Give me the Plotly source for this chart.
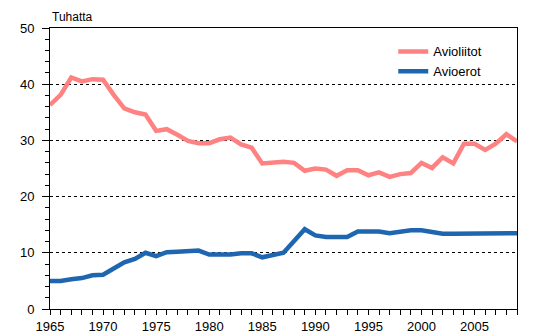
import plotly.graph_objects as go

years = list(range(1965, 2010))
avioliitot = [36.3, 38.1, 41.2, 40.5, 40.9, 40.8, 38.1, 35.7, 35.0, 34.6,
              31.7, 32.0, 31.0, 29.9, 29.5, 29.5, 30.2, 30.5, 29.3, 28.7,
              25.9, 26.0, 26.2, 26.0, 24.6, 25.0, 24.8, 23.7, 24.7, 24.7,
              23.8, 24.3, 23.5, 24.0, 24.2, 26.0, 25.1, 27.0, 25.9, 29.4,
              29.4, 28.3, 29.4, 31.1, 29.8]
avioerot = [5.0, 5.0, 5.3, 5.5, 6.0, 6.1, 7.2, 8.3, 8.9, 10.0,
            9.4, 10.1, 10.2, 10.4, 10.4, 9.7, 9.7, 9.7, 9.9, 9.9,
            9.2, 9.7, 10.0, 12.1, 14.2, 13.1, 12.8, 12.8, 12.8, 13.8,
            13.9, 13.8, 13.5, 13.8, 14.0, 14.0, 13.7, 13.4, 13.4, 13.4,
            13.4, 13.4, 13.4, 13.6, 13.5]

font = dict(family="Liberation Sans, Arial, sans-serif", size=12, color="black")

fig = go.Figure()
fig.add_trace(go.Scatter(x=years, y=avioliitot, mode="lines", name="Avioliitot",
                         line=dict(color="#ff8282", width=4.5)))
fig.add_trace(go.Scatter(x=years, y=avioerot, mode="lines", name="Avioerot",
                         line=dict(color="#1e67b0", width=4.5)))

fig.update_layout(
    width=553, height=333,
    margin=dict(l=49.5, r=36, t=28, b=24),
    paper_bgcolor="white", plot_bgcolor="white",
    font=font,
    legend=dict(x=0.735, y=0.97, xanchor="left", yanchor="top",
                bgcolor="rgba(0,0,0,0)", itemwidth=30,
                tracegroupgap=0, font=dict(family=font["family"], size=13, color="black")),
    annotations=[dict(text="Tuhatta", xref="paper", yref="paper", x=0, y=1,
                      xanchor="left", yanchor="bottom", showarrow=False,
                      font=font, yshift=2)],
)
fig.update_xaxes(range=[1965, 2009], tickmode="linear", tick0=1965, dtick=5,
                 automargin=False,
                 showgrid=False, zeroline=False, showline=True, linecolor="black",
                 linewidth=1, mirror=True, ticks="outside", ticklen=5,
                 tickcolor="black", tickfont=dict(family=font["family"], size=13),
                 minor=dict(dtick=1, tick0=1965, ticks="outside", ticklen=5,
                            tickcolor="black", showgrid=False))
fig.update_yaxes(range=[0, 50], tickmode="linear", tick0=0, dtick=10,
                 automargin=False, ticklabelstandoff=5,
                 tickfont=dict(family=font["family"], size=13),
                 showgrid=True, gridcolor="black", gridwidth=1, griddash="3px,3px",
                 zeroline=False, showline=True, linecolor="black", linewidth=1,
                 mirror=True, ticks="outside", ticklen=7, tickcolor="black",
                 minor=dict(dtick=2, tick0=0, ticks="outside", ticklen=4,
                            tickcolor="black", showgrid=False))

fig.write_html("out.html")
